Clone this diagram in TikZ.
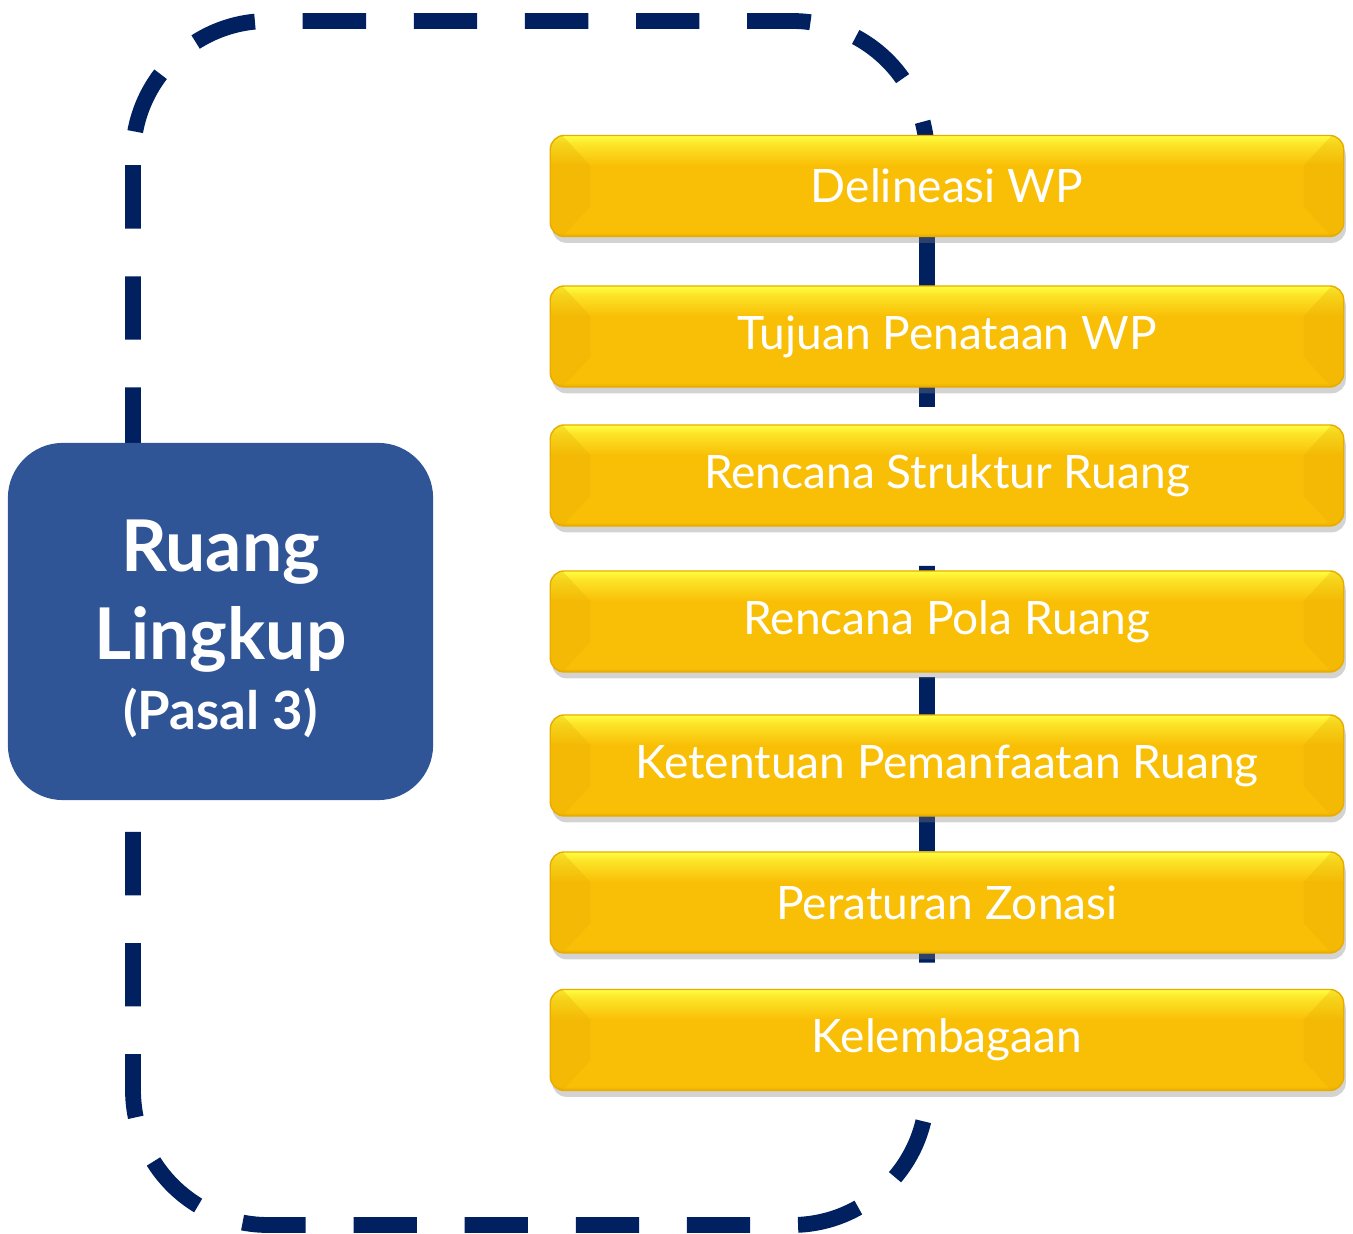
\documentclass[tikz,border=0pt]{standalone}
\usepackage{fontspec}
\setmainfont{Lato}
\usetikzlibrary{shadows}

\definecolor{navyline}{HTML}{002060}
\definecolor{boxblue}{HTML}{2F5597}
\definecolor{goldtop}{HTML}{FFFF40}
\definecolor{goldmid}{HTML}{F9BF06}
\definecolor{goldlow}{HTML}{E8AC00}
\pgfdeclareverticalshading{goldbar}{100bp}{color(0bp)=(goldlow); color(25bp)=(goldlow); color(27bp)=(goldmid); color(60bp)=(goldmid); color(71bp)=(goldtop!60!goldmid); color(75bp)=(goldtop); color(100bp)=(goldtop)}

\newcommand{\bigline}[1]{{\fontsize{20.3}{25}\selectfont #1}}

\tikzset{
  scopebox/.style={rectangle, rounded corners=0.55cm, fill=boxblue,
    minimum width=4.25cm, minimum height=3.57cm, text=white, align=center,
    font=\bfseries\fontsize{15}{25}\selectfont},
  itembox/.style={rectangle, rounded corners=4pt, shading=goldbar,
    draw=goldlow, line width=0.4pt, minimum width=7.93cm, minimum height=1.01cm,
    text=white, font=\fontsize{13.1}{16}\selectfont,
    drop shadow={shadow xshift=0.6pt, shadow yshift=-1.8pt, opacity=0.35},
    path picture={
      % bevelled ends
      \fill[goldlow, opacity=0.3, sharp corners] (path picture bounding box.north west)
        -- ++(0.12cm,0) -- ++(0.28cm,-0.3cm) -- ++(0,-0.41cm) -- ++(-0.28cm,-0.3cm)
        -- (path picture bounding box.south west) -- cycle;
      \fill[goldlow, opacity=0.3, sharp corners] (path picture bounding box.north east)
        -- ++(-0.12cm,0) -- ++(-0.28cm,-0.3cm) -- ++(0,-0.41cm) -- ++(0.28cm,-0.3cm)
        -- (path picture bounding box.south east) -- cycle;
    }},
}

\begin{document}
\begin{tikzpicture}[x=0.01cm,y=-0.01cm]
\useasboundingbox (0,0) rectangle (1353,1234);

% Dashed frame
\draw[navyline, line width=4.5pt, dash pattern=on 18pt off 13.6pt, dash phase=29pt,
  rounded corners=1.35cm] (133,21) rectangle (927,1225);

% Main box
\node[scopebox] (scope) at (220.5,621.5)
  {\rule{0pt}{19pt}\bigline{Ruang}\\ \bigline{Lingkup}\\[-5pt] (Pasal 3)};

% Items
\foreach \i/\y/\t in {1/186/Delineasi WP,
                      2/336.5/Tujuan Penataan WP,
                      3/475.5/Rencana Struktur Ruang,
                      4/621.5/Rencana Pola Ruang,
                      5/765.5/Ketentuan Pemanfaatan Ruang,
                      6/902.5/Peraturan Zonasi,
                      7/1040/Kelembagaan}
  \node[itembox] (item\i) at (947,\y) {\t};
\end{tikzpicture}
\end{document}
